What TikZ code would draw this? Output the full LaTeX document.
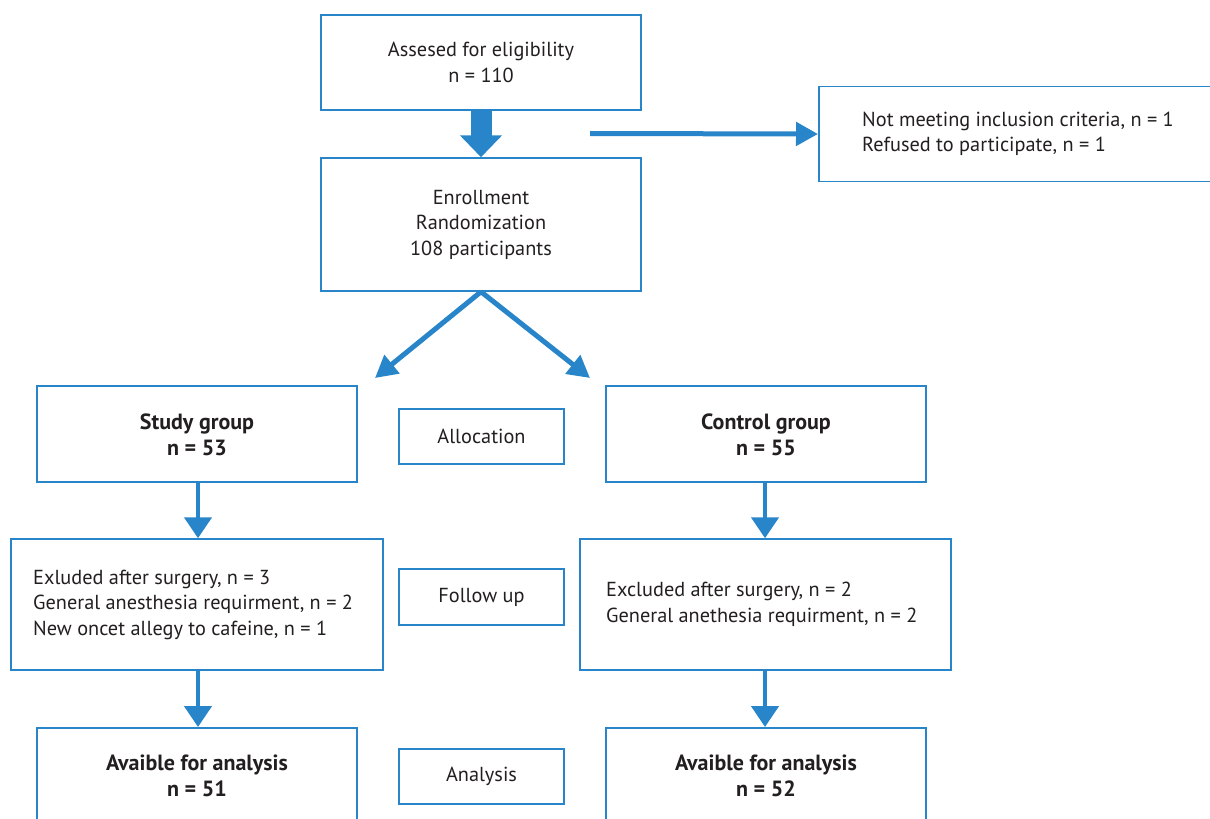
\documentclass[tikz,border=0pt]{standalone}
\usepackage{fontspec}
\setmainfont{PT Sans}
\usetikzlibrary{arrows.meta}
\definecolor{cblue}{RGB}{41,133,201}
\definecolor{ctext}{RGB}{35,31,32}
\tikzset{
  box/.style={draw=cblue, line width=1.5pt, fill=white, inner sep=0pt, text=ctext,
    font=\fontsize{20.3pt}{25.5pt}\selectfont, align=center},
  plain/.style={inner sep=0pt, text=ctext, font=\fontsize{20.3pt}{25.5pt}\selectfont, align=center},
  lefttxt/.style={plain, align=left, anchor=west},
  boldtxt/.style={plain, font=\fontsize{22pt}{25.5pt}\selectfont\bfseries},
  thinarrow/.style={draw=cblue, line width=5pt, -{Triangle[width=23pt,length=22pt]}},
  varrow/.style={draw=cblue, line width=4.5pt, -{Triangle[width=27pt,length=21pt]}},
  bigarrow/.style={draw=cblue, line width=21pt, -{Triangle[width=41pt,length=22pt]}},
}
\begin{document}
\begin{tikzpicture}[x=1pt,y=-1pt]
\useasboundingbox (0,0) rectangle (1210,819);
\clip (0,0) rectangle (1210,819);
% top
\node[box, minimum width=320, minimum height=95] (elig) at (481,62.5) {Assesed for eligibility\\n = 110};
\node[box, minimum width=320, minimum height=133] (enrol) at (481,224.5) {Enrollment\\Randomization\\108 participants};
\node[box, minimum width=440, minimum height=95, anchor=west] (excl) at (818,134) {};
\node[lefttxt] (exclt) at (862,134) {Not meeting inclusion criteria, n = 1\\Refused to participate, n = 1};
\coordinate (rstart) at (590,133.5);
\draw[bigarrow] (elig.south) -- (enrol.north);
\draw[thinarrow] (rstart) -- (excl.west);
% allocation
\node[box, minimum width=320, minimum height=96] (study) at (197,434) {};
\node[boldtxt] (studyt) at (197,435) {Study group\\n = 53};
\node[box, minimum width=320, minimum height=96] (control) at (766,434) {};
\node[boldtxt] (controlt) at (766,435) {Control group\\n = 55};
\node[box, minimum width=165, minimum height=55] (alloc) at (481.5,436.5) {Allocation};
\coordinate (dl) at (375,378);
\coordinate (dr) at (590,378);
\draw[thinarrow] (enrol.south) -- (dl);
\draw[thinarrow] (enrol.south) -- (dr);
% follow up
\node[box, minimum width=372, minimum height=131] (fl) at (197,604.5) {};
\node[lefttxt] (flt) at (33,604.5) {Exluded after surgery, n = 3\\General anesthesia requirment, n = 2\\New oncet allegy to cafeine, n = 1};
\node[box, minimum width=371, minimum height=131] (fr) at (765.5,604.5) {};
\node[lefttxt] (frt) at (606,604.5) {Excluded after surgery, n = 2\\General anethesia requirment, n = 2};
\node[box, minimum width=165, minimum height=56] (follow) at (481.5,597) {Follow up};
\draw[varrow] (study.south -| 198,0) -- (fl.north -| 198,0);
\draw[varrow] (control.south -| 765,0) -- (fr.north -| 765,0);
% analysis
\node[box, minimum width=320, minimum height=130, anchor=north] (al) at (197,727) {};
\node[boldtxt] (alt) at (197,776) {Avaible for analysis\\n = 51};
\node[box, minimum width=320, minimum height=130, anchor=north] (ar) at (766,727) {};
\node[boldtxt] (art) at (766,776) {Avaible for analysis\\n = 52};
\node[box, minimum width=165, minimum height=55] (anal) at (481.5,776.5) {Analysis};
\draw[varrow] (fl.south -| 198,0) -- (al.north -| 198,0);
\draw[varrow] (fr.south -| 765,0) -- (ar.north -| 765,0);
\end{tikzpicture}
\end{document}
